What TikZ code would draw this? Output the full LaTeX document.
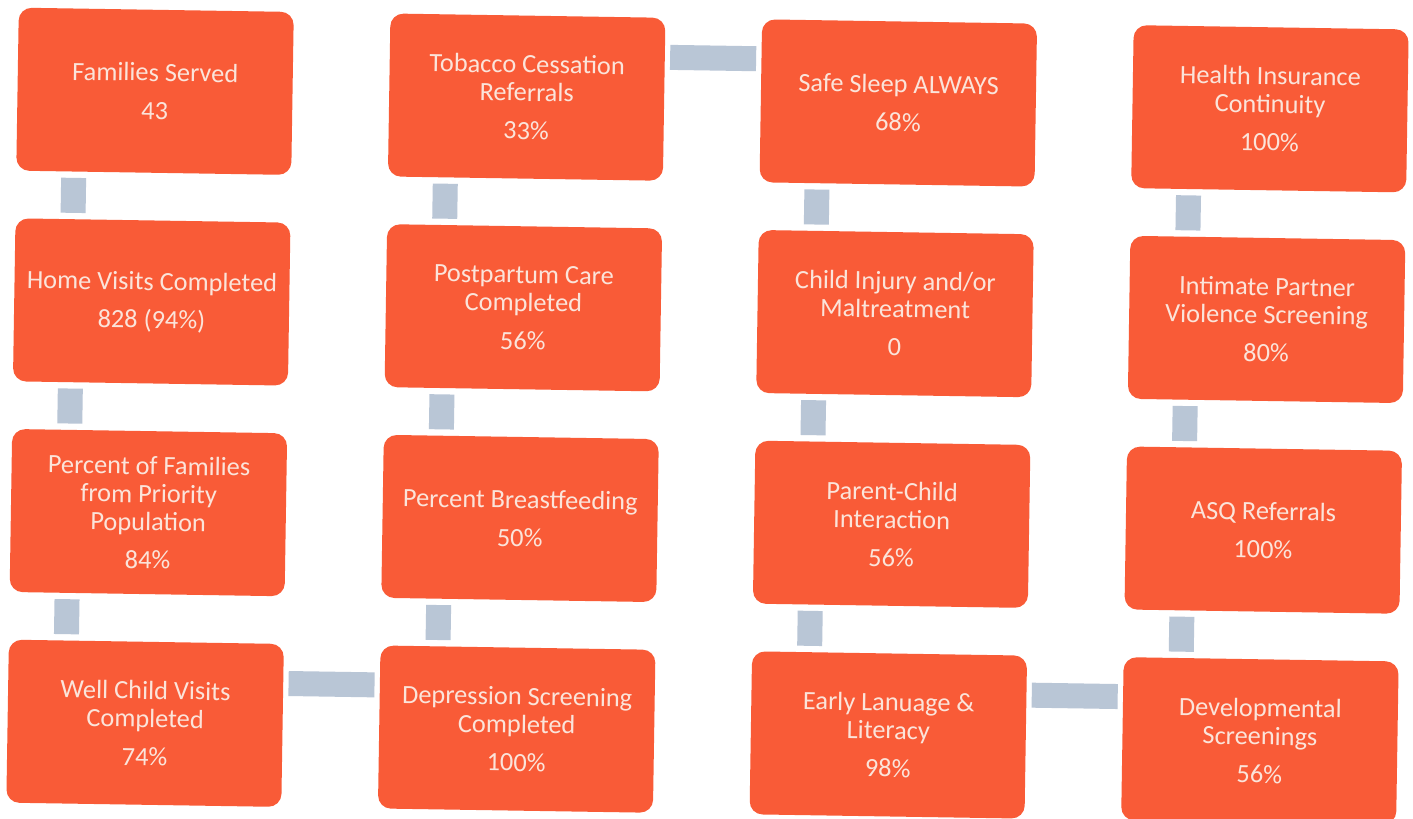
\documentclass[tikz,border=0pt]{standalone}
\usepackage{fontspec}
\setmainfont{Carlito}
\usetikzlibrary{positioning}
\definecolor{boxorange}{HTML}{F95B37}
\definecolor{linkgrey}{HTML}{B9C6D6}
\definecolor{boxtext}{HTML}{FBE4DA}
\tikzstyle{block} = [rectangle, fill=boxorange, text=boxtext,
    minimum width=5.5cm, minimum height=3.26cm, rounded corners=0.26cm,
    align=center, font=\fontsize{15}{16}\selectfont]
\tikzstyle{link} = [draw=linkgrey, line width=0.5cm, shorten <=0.12cm, shorten >=0.12cm]
\begin{document}
\begin{tikzpicture}
    \fill[white] (0,0) rectangle (28.26,-16.38);
    \useasboundingbox (0,0) rectangle (28.26,-16.38);
    \begin{scope}[rotate around={-0.9:(14.13,-8.3)}, transform shape, node distance=0.94cm and 1.92cm]
    % Place nodes
    \node [block] at (3.0,-2.0) (fam) {Families Served\\[0.2cm]43};
    \node [block, below=of fam] (visits) {Home Visits Completed\\[0.2cm]828 (94\%)};
    \node [block, below=of visits] (priority) {Percent of Families\\from Priority\\Population\\[0.2cm]84\%};
    \node [block, below=of priority] (wellchild) {Well Child Visits\\Completed\\[0.2cm]74\%};
    \node [block, right=of fam] (tobacco) {Tobacco Cessation\\Referrals\\[0.2cm]33\%};
    \node [block, below=of tobacco] (postpartum) {Postpartum Care\\Completed\\[0.2cm]56\%};
    \node [block, below=of postpartum] (breastfeed) {Percent Breastfeeding\\[0.2cm]50\%};
    \node [block, below=of breastfeed] (depression) {Depression Screening\\Completed\\[0.2cm]100\%};
    \node [block, right=of tobacco] (sleep) {Safe Sleep ALWAYS\\[0.2cm]68\%};
    \node [block, below=of sleep] (injury) {Child Injury and/or\\Maltreatment\\[0.2cm]0};
    \node [block, below=of injury] (interaction) {Parent-Child\\Interaction\\[0.2cm]56\%};
    \node [block, below=of interaction] (literacy) {Early Lanuage \&\\Literacy\\[0.2cm]98\%};
    \node [block, right=of sleep] (insurance) {Health Insurance\\Continuity\\[0.2cm]100\%};
    \node [block, below=of insurance] (ipv) {Intimate Partner\\Violence Screening\\[0.2cm]80\%};
    \node [block, below=of ipv] (asq) {ASQ Referrals\\[0.2cm]100\%};
    \node [block, below=of asq] (devscreen) {Developmental\\Screenings\\[0.2cm]56\%};
    % Draw links
    \path [link] ([xshift=-1.6cm]fam.south) -- ([xshift=-1.6cm]visits.north);
    \path [link] ([xshift=-1.6cm]visits.south) -- ([xshift=-1.6cm]priority.north);
    \path [link] ([xshift=-1.6cm]priority.south) -- ([xshift=-1.6cm]wellchild.north);
    \path [link, shorten <=0.1cm, shorten >=0.1cm] ([yshift=0.84cm]wellchild.east) -- ([yshift=0.84cm]depression.west);
    \path [link] ([xshift=-1.6cm]depression.north) -- ([xshift=-1.6cm]breastfeed.south);
    \path [link] ([xshift=-1.6cm]breastfeed.north) -- ([xshift=-1.6cm]postpartum.south);
    \path [link] ([xshift=-1.6cm]postpartum.north) -- ([xshift=-1.6cm]tobacco.south);
    \path [link, shorten <=0.1cm, shorten >=0.1cm] ([yshift=0.84cm]tobacco.east) -- ([yshift=0.84cm]sleep.west);
    \path [link] ([xshift=-1.6cm]sleep.south) -- ([xshift=-1.6cm]injury.north);
    \path [link] ([xshift=-1.6cm]injury.south) -- ([xshift=-1.6cm]interaction.north);
    \path [link] ([xshift=-1.6cm]interaction.south) -- ([xshift=-1.6cm]literacy.north);
    \path [link, shorten <=0.1cm, shorten >=0.1cm] ([yshift=0.84cm]literacy.east) -- ([yshift=0.84cm]devscreen.west);
    \path [link] ([xshift=-1.6cm]devscreen.north) -- ([xshift=-1.6cm]asq.south);
    \path [link] ([xshift=-1.6cm]asq.north) -- ([xshift=-1.6cm]ipv.south);
    \path [link] ([xshift=-1.6cm]ipv.north) -- ([xshift=-1.6cm]insurance.south);
    \end{scope}
\end{tikzpicture}
\end{document}
